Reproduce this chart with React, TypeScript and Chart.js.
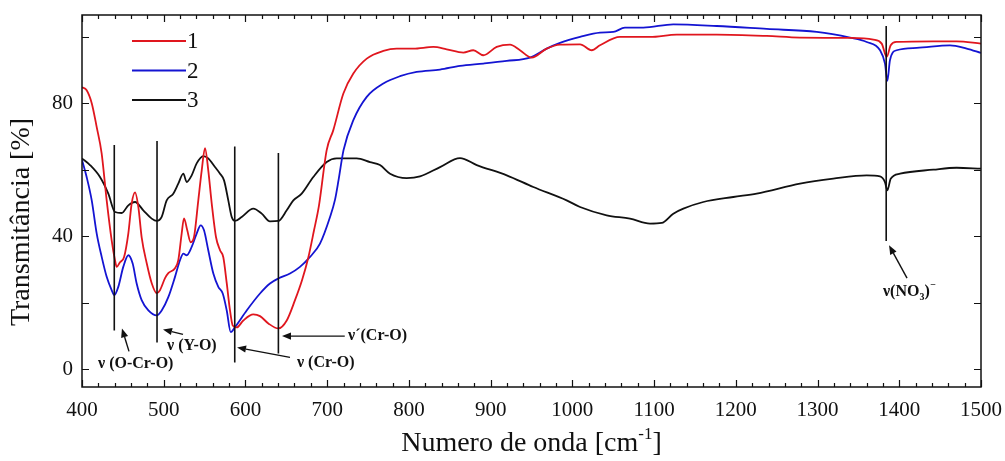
import { useEffect, useRef } from 'react';
import { Chart, registerables } from 'chart.js';

Chart.register(...registerables);

// ---- data (wavenumber in cm-1, transmittance in %) ----
const X_S1 = [400, 405.7, 411.9, 418, 424, 430.2, 436.3, 440.4, 442.5, 446.5, 451.4, 456.7, 460.8, 464.9, 469, 473, 479.2, 485.3, 491.4, 495.4, 501.6, 505.6, 513.8, 517.8, 522, 524.8, 528.8, 533, 537, 542.3, 546.5, 550.5, 554.5, 558.7, 564, 568.9, 572.9, 577.1, 581.1, 584.4, 589.3, 597.4, 609.6, 617.8, 628, 640.2, 650.5, 660.6, 669.2, 677, 683.9, 690, 699.4, 707.5, 719.8, 732, 748.4, 768.7, 785, 805.4, 829.9, 846.2, 866.6, 878.8, 891, 907.4, 923.7, 935.9, 950.2, 968.6, 984.9, 1009.4, 1023.7, 1033.8, 1058.3, 1095, 1127.7, 1176.6, 1237.8, 1278.5, 1339.7, 1368.3, 1378.5, 1384.6, 1389.5, 1396.8, 1441.7, 1470.2, 1500];
const T_S1 = [84.8, 83.9, 80, 72.8, 65, 50.8, 38.8, 32.8, 30.8, 32.2, 33.7, 40.9, 49.9, 53.2, 48.7, 39.7, 31.9, 25.9, 22.9, 23.8, 27.4, 28.9, 30.4, 32.8, 40.9, 45.4, 41.8, 38.2, 39.7, 50.8, 59.8, 66.5, 59.8, 49.9, 39.7, 35.8, 33.7, 25.9, 17.7, 13.2, 12.6, 14.7, 16.5, 16, 13.8, 12.3, 14.7, 20.8, 26.8, 33.7, 41.8, 49.3, 65.9, 71.9, 82.9, 88.9, 93.4, 95.7, 96.4, 96.4, 96.9, 96.2, 95.2, 95.9, 94.4, 96.9, 97.6, 95.9, 93.7, 96.4, 97.6, 97.7, 95.9, 97.4, 99.9, 99.9, 100.6, 100.6, 100.2, 99.7, 99.6, 99.1, 97.9, 93.9, 97.4, 98.4, 98.6, 98.6, 97.9];

const X_S2 = [400, 405.7, 411.9, 418, 424.1, 430.2, 436.3, 439.5, 444.4, 450.5, 456.7, 462, 466.9, 473, 481.2, 491.4, 497.5, 505.6, 513.8, 519.9, 524, 528.1, 534.2, 540.3, 545.2, 549.3, 554.5, 560.7, 566.8, 572.2, 577.1, 582, 587.2, 601.5, 617.8, 630, 640.2, 654.5, 666.7, 679, 691.2, 703.5, 709.6, 714, 720, 732, 748.4, 768.7, 789.1, 809.5, 838.1, 862.5, 891, 919.7, 948.2, 968.6, 984.9, 1009.4, 1033.8, 1050.1, 1064.4, 1086.8, 1123.5, 1176.6, 1237.8, 1299, 1339.7, 1360.1, 1376.5, 1382.5, 1385.4, 1388.6, 1396.8, 1421.3, 1462.1, 1482.5, 1500];
const T_S2 = [62.9, 57.8, 50.8, 40.8, 33.8, 27.8, 23.8, 22.3, 24.8, 30.8, 34.3, 31.8, 25.8, 20.8, 17.7, 16.2, 17.7, 21.7, 27.8, 32.8, 34.8, 34.3, 36.8, 40.8, 43.3, 41.8, 35.8, 28.8, 24.8, 22.8, 17.7, 11.2, 12.7, 17.7, 22.8, 25.8, 27.3, 28.8, 30.8, 33.8, 37.8, 45.8, 51, 57, 65.9, 74.9, 81.9, 85.9, 88.1, 89.4, 90.1, 91.2, 91.9, 92.7, 93.7, 96.4, 98.1, 99.9, 101.2, 101.4, 102.7, 102.7, 103.7, 103.2, 102.3, 101.4, 99.7, 98.4, 95.9, 91.9, 86.7, 92.9, 95.9, 96.6, 97.4, 96.4, 95.1];

const X_S3 = [400, 409.8, 422, 432.2, 440.4, 448.6, 456.7, 464.9, 475, 485.3, 491.4, 497.5, 503.6, 511.7, 517.8, 524, 528.1, 534.2, 540.3, 548.4, 554.5, 562.7, 568.9, 573.8, 579, 583.2, 587.2, 595.4, 609.6, 619.9, 630, 640.2, 650.5, 658.6, 668.8, 683, 699.4, 711.6, 736.1, 752.4, 764.6, 776.9, 797.3, 813.6, 838.1, 862.5, 883, 919.7, 952.2, 993, 1009.4, 1042, 1070.5, 1095, 1109.3, 1123.5, 1135.8, 1160.2, 1196.9, 1225.5, 1278.5, 1319.3, 1360.1, 1376.4, 1382.5, 1385.4, 1389.5, 1401, 1441.7, 1470.2, 1500];
const T_S3 = [63.4, 61.4, 57.8, 52.8, 47.3, 47, 49.3, 50.3, 47.8, 45.3, 44.6, 45.8, 50.8, 52.8, 55.8, 58.8, 56.3, 58.3, 61.9, 64.1, 63.4, 60.8, 58.8, 56.8, 50.8, 45.8, 44.6, 45.8, 48.3, 46.8, 44.5, 44.6, 47.8, 50.8, 52.8, 57.8, 62.3, 63.4, 63.4, 62.3, 61.4, 58.8, 57.5, 58, 60.8, 63.5, 61.4, 58.3, 54.8, 50.8, 48.8, 46.3, 45.3, 43.8, 44, 46.8, 48.3, 50.3, 51.8, 52.8, 55.8, 57.3, 58.3, 58, 56.3, 53.8, 57.3, 58.8, 60, 60.6, 60.3];

const SERIES_LABELS = ['1', '2', '3'];
const SERIES_COLORS = ['#e0161e', '#1414d2', '#111111'];

const X_MIN = 400;
const X_MAX = 1500;
const Y_MIN = -5.3;
const Y_MAX = 106.5;
const X_TICK_LABELS = [400, 500, 600, 700, 800, 900, 1000, 1100, 1200, 1300, 1400, 1500];
const Y_TICK_LABELS = [0, 40, 80];

// band markers: wavenumber, top and bottom of the vertical line (%)
const MARKER_X = [439.5, 491.8, 586.9, 640.3, 1384];
const MARKER_TOP = [67.4, 68.6, 67, 65, 103.2];
const MARKER_BOTTOM = [11.7, 8.1, 2.1, 4.8, 38.6];

// arrows: tail -> head (data units)
const ARROW_X1 = [457.5, 523.6, 654.5, 721.5, 1409.5];
const ARROW_Y1 = [5.4, 10.5, 3.6, 10, 27.4];
const ARROW_X2 = [448.9, 499.1, 589.7, 644.7, 1387.5];
const ARROW_Y2 = [12.3, 12, 6.6, 10, 37.3];

// band labels (left x, middle y)
const BAND_TEXT = ['ν (O-Cr-O)', 'ν (Y-O)', 'ν (Cr-O)', 'ν´(Cr-O)'];
const BAND_X = [419.6, 504, 663, 725.5];
const BAND_Y = [1.8, 7.2, 2.1, 10.2];
const NO3_X = 1380;
const NO3_Y = 23.2;

const SERIF = "'Liberation Serif', 'Times New Roman', serif";

function drawArrow(ctx: CanvasRenderingContext2D, x1: number, y1: number, x2: number, y2: number) {
  const ang = Math.atan2(y2 - y1, x2 - x1);
  const len = 9;
  const hw = 3.6;
  const bx = x2 - len * Math.cos(ang);
  const by = y2 - len * Math.sin(ang);
  ctx.beginPath();
  ctx.moveTo(x1, y1);
  ctx.lineTo(bx, by);
  ctx.stroke();
  ctx.beginPath();
  ctx.moveTo(x2, y2);
  ctx.lineTo(bx + hw * Math.sin(ang), by - hw * Math.cos(ang));
  ctx.lineTo(bx - hw * Math.sin(ang), by + hw * Math.cos(ang));
  ctx.closePath();
  ctx.fill();
}

const decorPlugin = {
  id: 'decor',
  afterDatasetsDraw(chart: any) {
    const ctx: CanvasRenderingContext2D = chart.ctx;
    const xs = chart.scales.x;
    const ys = chart.scales.y;
    const { left, right, top, bottom } = chart.chartArea;
    ctx.save();
    ctx.strokeStyle = '#111';
    ctx.fillStyle = '#111';

    // frame
    ctx.lineWidth = 1.5;
    ctx.strokeRect(left, top, right - left, bottom - top);

    // inward ticks, mirrored
    ctx.lineWidth = 1.2;
    ctx.beginPath();
    for (let v = X_MIN; v <= X_MAX; v += 20) {
      const p = Math.round(xs.getPixelForValue(v)) + 0.5;
      const l = v % 100 === 0 ? 7 : 4;
      ctx.moveTo(p, bottom);
      ctx.lineTo(p, bottom - l);
      ctx.moveTo(p, top);
      ctx.lineTo(p, top + l);
    }
    for (let v = 0; v <= 100; v += 20) {
      const p = Math.round(ys.getPixelForValue(v)) + 0.5;
      ctx.moveTo(left, p);
      ctx.lineTo(left + 7, p);
      ctx.moveTo(right, p);
      ctx.lineTo(right - 7, p);
    }
    ctx.stroke();

    // band marker lines
    ctx.lineWidth = 1.6;
    ctx.beginPath();
    MARKER_X.forEach((x, i) => {
      const p = xs.getPixelForValue(x);
      ctx.moveTo(p, ys.getPixelForValue(MARKER_TOP[i]));
      ctx.lineTo(p, ys.getPixelForValue(MARKER_BOTTOM[i]));
    });
    ctx.stroke();

    // arrows
    ctx.lineWidth = 1.4;
    ARROW_X1.forEach((x, i) => {
      drawArrow(ctx, xs.getPixelForValue(x), ys.getPixelForValue(ARROW_Y1[i]), xs.getPixelForValue(ARROW_X2[i]), ys.getPixelForValue(ARROW_Y2[i]));
    });

    // band labels
    ctx.font = `bold 16px ${SERIF}`;
    ctx.textBaseline = 'middle';
    ctx.textAlign = 'left';
    BAND_TEXT.forEach((t, i) => {
      ctx.fillText(t, xs.getPixelForValue(BAND_X[i]), ys.getPixelForValue(BAND_Y[i]));
    });
    // nitrate label with sub/superscript
    let nx = xs.getPixelForValue(NO3_X);
    const ny = ys.getPixelForValue(NO3_Y);
    ctx.fillText('ν(NO', nx, ny);
    nx += ctx.measureText('ν(NO').width;
    ctx.font = `bold 10px ${SERIF}`;
    ctx.fillText('3', nx, ny + 5);
    nx += ctx.measureText('3').width;
    ctx.font = `bold 16px ${SERIF}`;
    ctx.fillText(')', nx, ny);
    nx += ctx.measureText(')').width;
    ctx.font = `bold 10px ${SERIF}`;
    ctx.fillText('−', nx + 0.5, ny - 7);

    // legend
    ctx.font = `23px ${SERIF}`;
    chart.data.datasets.forEach((ds: any, i: number) => {
      const y = 41 + 29.5 * i;
      ctx.strokeStyle = ds.borderColor;
      ctx.lineWidth = 1.8;
      ctx.beginPath();
      ctx.moveTo(132, y);
      ctx.lineTo(186, y);
      ctx.stroke();
      ctx.fillStyle = '#111';
      ctx.textBaseline = 'middle';
      ctx.fillText(ds.label, 187, y + 1);
    });

    // axis titles
    ctx.fillStyle = '#111';
    ctx.textBaseline = 'middle';
    ctx.textAlign = 'center';
    ctx.save();
    ctx.translate(22, 222);
    ctx.rotate(-Math.PI / 2);
    ctx.font = `28px ${SERIF}`;
    ctx.fillText('Transmitância [%]', 0, 0);
    ctx.restore();

    ctx.font = `28px ${SERIF}`;
    const main = 'Numero de onda [cm';
    const sup = '-1';
    const end = ']';
    const wMain = ctx.measureText(main).width;
    const wEnd = ctx.measureText(end).width;
    ctx.font = `17px ${SERIF}`;
    const wSup = ctx.measureText(sup).width;
    const total = wMain + wSup + wEnd;
    let tx = (left + right) / 2 - total / 2;
    const ty = 444;
    ctx.textAlign = 'left';
    ctx.font = `28px ${SERIF}`;
    ctx.fillText(main, tx, ty);
    tx += wMain;
    ctx.font = `17px ${SERIF}`;
    ctx.fillText(sup, tx, ty - 9);
    tx += wSup;
    ctx.font = `28px ${SERIF}`;
    ctx.fillText(end, tx, ty);
    ctx.restore();
  },
};

function toPoints(xs: number[], ys: number[]) {
  return xs.map((x, i) => ({ x, y: ys[i] }));
}

export default function App() {
  const ref = useRef<HTMLCanvasElement | null>(null);
  useEffect(() => {
    document.body.style.margin = '0';
    const canvas = ref.current;
    if (!canvas) return;
    const series = [
      toPoints(X_S1, T_S1),
      toPoints(X_S2, T_S2),
      toPoints(X_S3, T_S3),
    ];
    const chart = new Chart(canvas, {
      type: 'line',
      data: {
        datasets: series.map((d, i) => ({
          label: SERIES_LABELS[i],
          data: d,
          borderColor: SERIES_COLORS[i],
          backgroundColor: SERIES_COLORS[i],
          borderWidth: 1.8,
          pointRadius: 0,
          fill: false,
          cubicInterpolationMode: 'monotone' as const,
        })),
      },
      options: {
        responsive: false,
        animation: false,
        devicePixelRatio: 1,
        layout: { padding: { left: 0, right: 24, top: 15, bottom: 0 } },
        plugins: { legend: { display: false }, tooltip: { enabled: false } },
        scales: {
          x: {
            type: 'linear',
            min: X_MIN,
            max: X_MAX,
            afterBuildTicks: (s: any) => {
              s.ticks = X_TICK_LABELS.map((v) => ({ value: v }));
            },
            afterFit: (s: any) => {
              s.height = 74;
              s.paddingLeft = 0;
              s.paddingRight = 0;
            },
            ticks: {
              autoSkip: false,
              maxRotation: 0,
              padding: 11,
              color: '#111',
              font: { family: SERIF, size: 21 },
              callback: (v: any) => String(v),
            },
            grid: { display: false, drawTicks: false },
            border: { display: false },
          },
          y: {
            type: 'linear',
            min: Y_MIN,
            max: Y_MAX,
            afterBuildTicks: (s: any) => {
              s.ticks = Y_TICK_LABELS.map((v) => ({ value: v }));
            },
            afterFit: (s: any) => {
              s.width = 82;
              s.paddingTop = 0;
              s.paddingBottom = 0;
            },
            ticks: {
              padding: 9,
              color: '#111',
              font: { family: SERIF, size: 21 },
              callback: (v: any) => String(v),
            },
            grid: { display: false, drawTicks: false },
            border: { display: false },
          },
        },
      },
      plugins: [decorPlugin],
    });
    return () => chart.destroy();
  }, []);
  return (
    <div style={{ width: 1005, height: 461, background: '#fff' }}>
      <canvas ref={ref} width={1005} height={461} style={{ display: 'block' }} />
    </div>
  );
}
